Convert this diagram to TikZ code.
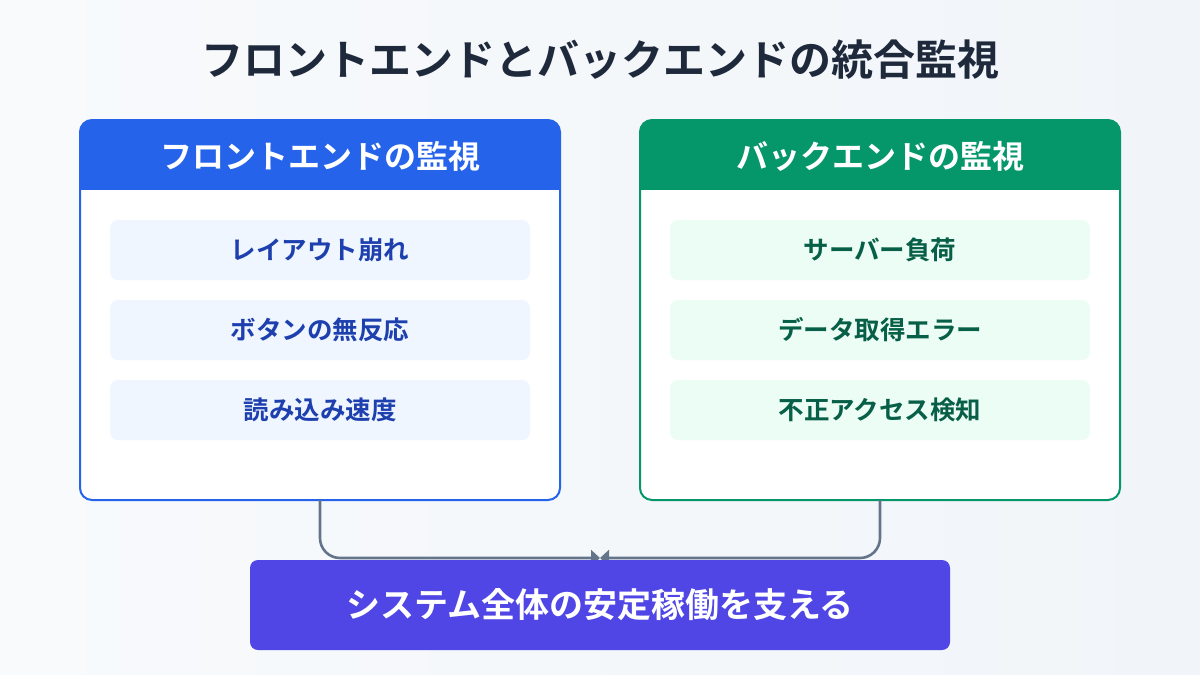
\documentclass[tikz,border=0pt]{standalone}
\usepackage{fontspec}
\setmainfont{Noto Sans CJK JP}[BoldFont={* Bold}]
\usetikzlibrary{arrows.meta}
\definecolor{bgA}{HTML}{F8FAFC}
\definecolor{bgB}{HTML}{F1F5F9}
\definecolor{titlec}{HTML}{1E293B}
\definecolor{blueM}{HTML}{2563EB}
\definecolor{blueL}{HTML}{EFF6FF}
\definecolor{blueT}{HTML}{1E40AF}
\definecolor{greenM}{HTML}{059669}
\definecolor{greenL}{HTML}{ECFDF5}
\definecolor{greenT}{HTML}{065F46}
\definecolor{indigo}{HTML}{4F46E5}
\definecolor{slate}{HTML}{64748B}
\tikzset{
  panel/.style={draw=#1, line width=2pt, rounded corners=12pt},
  headtext/.style={text=white, font=\fontsize{32}{36}\selectfont\bfseries},
  itembox/.style={fill=#1, rounded corners=8pt, minimum width=420pt, minimum height=60pt, inner sep=0pt},
  itemtext/.style={font=\fontsize{25.5}{30}\selectfont\bfseries},
  link/.style={draw=slate, line width=2.6pt, rounded corners=20pt, -{Triangle[length=9pt,width=16pt]}},
}
\begin{document}
\begin{tikzpicture}[x=1pt,y=-1pt]
\useasboundingbox (0,0) rectangle (1200,675);
\shade[left color=bgA, right color=bgB] (0,0) rectangle (1200,675);
\node[text=titlec, font=\fontsize{42}{48}\selectfont\bfseries] (title) at (600,60) {フロントエンドとバックエンドの統合監視};
% left panel
\begin{scope}
\clip[rounded corners=12pt] (80,120) rectangle (560,500);
\fill[white] (80,120) rectangle (560,500);
\fill[blueM] (80,120) rectangle (560,190);
\end{scope}
\draw[panel=blueM] (80,120) rectangle (560,500);
\node[headtext] (fhead) at (320,156) {フロントエンドの監視};
\node[itembox=blueL, text=blueT, itemtext] (f1) at (320,250) {レイアウト崩れ};
\node[itembox=blueL, text=blueT, itemtext] (f2) at (320,330) {ボタンの無反応};
\node[itembox=blueL, text=blueT, itemtext] (f3) at (320,410) {読み込み速度};
\coordinate (fb) at (320,500);
% right panel
\begin{scope}
\clip[rounded corners=12pt] (640,120) rectangle (1120,500);
\fill[white] (640,120) rectangle (1120,500);
\fill[greenM] (640,120) rectangle (1120,190);
\end{scope}
\draw[panel=greenM] (640,120) rectangle (1120,500);
\node[headtext] (bhead) at (880,156) {バックエンドの監視};
\node[itembox=greenL, text=greenT, itemtext] (b1) at (880,250) {サーバー負荷};
\node[itembox=greenL, text=greenT, itemtext] (b2) at (880,330) {データ取得エラー};
\node[itembox=greenL, text=greenT, itemtext] (b3) at (880,410) {不正アクセス検知};
\coordinate (bb) at (880,500);
% connectors
\coordinate (m) at (600,558);
\draw[link] (fb) |- (m);
\draw[link] (bb) |- (m);
% bottom
\node[fill=indigo, rounded corners=8pt, minimum width=700pt, minimum height=90pt, inner sep=0pt, text=white, font=\fontsize{34}{40}\selectfont\bfseries] (goal) at (600,605) {システム全体の安定稼働を支える};
\end{tikzpicture}
\end{document}
